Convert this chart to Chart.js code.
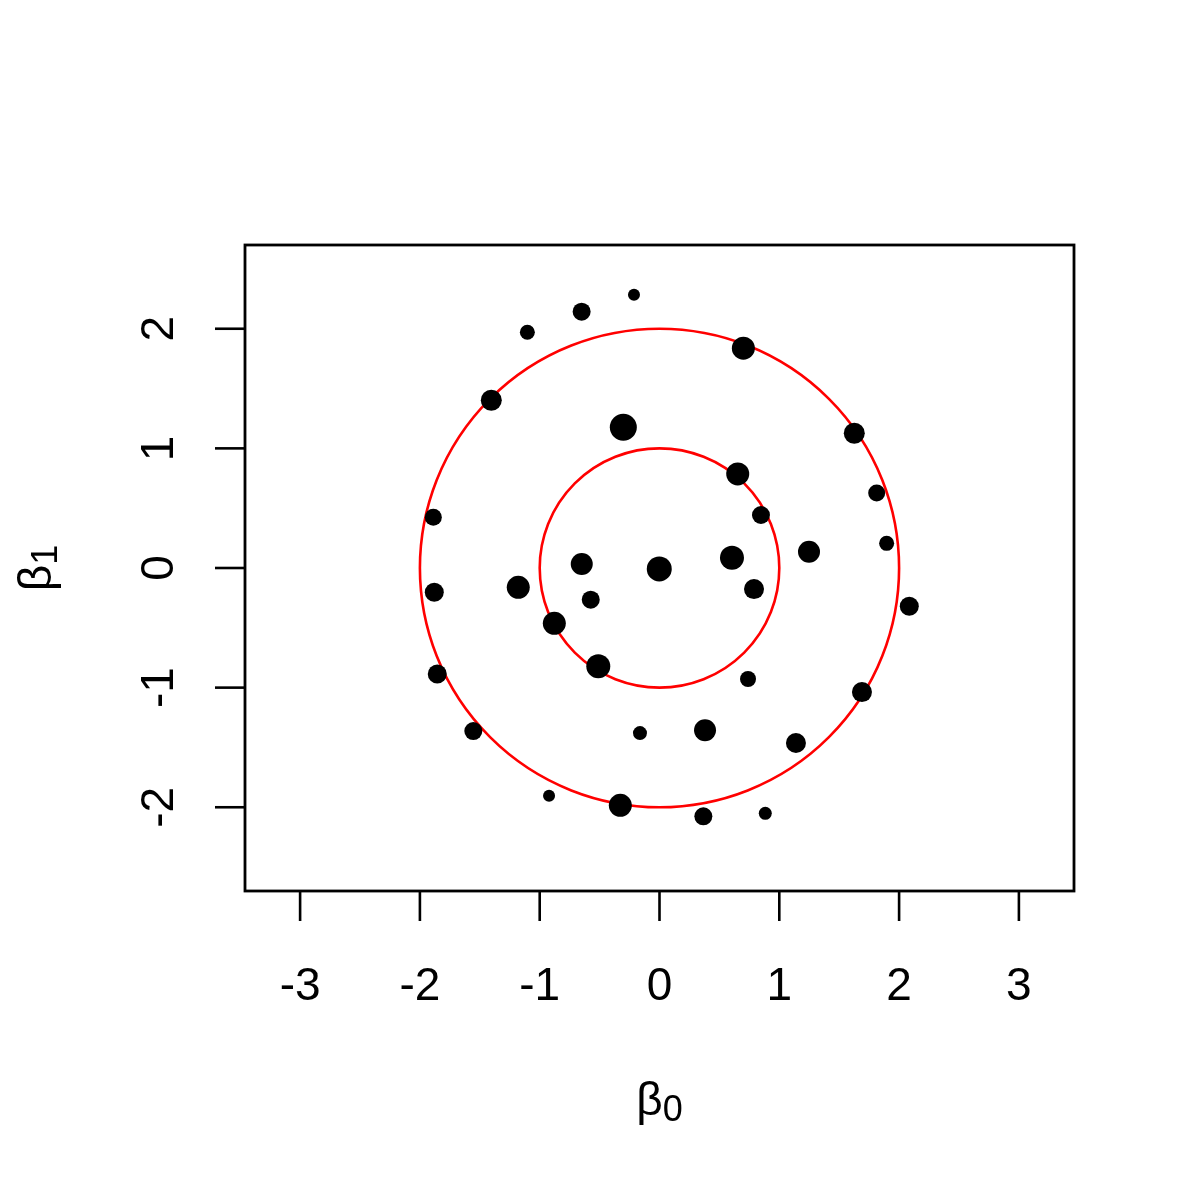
<!DOCTYPE html>
<html>
<head>
<meta charset="utf-8">
<script src="https://cdn.jsdelivr.net/npm/chart.js@4/dist/chart.umd.min.js"></script>
<style>
  html, body { margin: 0; padding: 0; background: #fff; }
  #wrap { width: 1200px; height: 1200px; }
</style>
</head>
<body>
<div id="wrap"><canvas id="myChart" width="1200" height="1200"></canvas></div>
<script>
// sampled coefficients (beta0, beta1) and the dot size for each
var beta0 = [-0.213, -0.650, -1.103, -1.404, -0.302, 0.700, 1.626, -1.888, -1.880, -1.179,
             -0.649, -0.002, -0.574, -0.878, -0.511, 0.653, 0.847, 0.605, 0.789, 1.248,
             1.813, 1.896, 2.085, -1.855, -1.554, -0.163, -0.922, -0.327, 0.739, 1.690,
             0.380, 1.139, 0.883, 0.366];
var beta1 = [2.285, 2.143, 1.971, 1.402, 1.176, 1.837, 1.126, 0.424, -0.203, -0.161,
             0.033, -0.008, -0.265, -0.462, -0.822, 0.786, 0.443, 0.086, -0.176, 0.136,
             0.627, 0.206, -0.320, -0.886, -1.363, -1.380, -1.904, -1.984, -0.928, -1.037,
             -1.357, -1.463, -2.051, -2.076];
var dotSize = [6, 9, 7.5, 10.5, 13.5, 11.5, 10.5, 8.5, 9.5, 11.5,
               11, 12.5, 9, 11.5, 12, 11.5, 9, 12, 10, 11,
               8.5, 7.5, 9.5, 9.5, 9, 7, 6, 11.5, 8, 10,
               11, 10, 6.5, 9];

var ringRadii = [1, 2];
var xTicks = [-3, -2, -1, 0, 1, 2, 3];
var yTicks = [-2, -1, 0, 1, 2];

var points = beta0.map(function (b0, i) { return { x: b0, y: beta1[i] }; });

var FONT = '"Liberation Sans", Arial, sans-serif';

// R-style frame, ticks, labels and the two red rings
var rPlot = {
  id: 'rPlot',
  beforeDatasetsDraw: function (chart) {
    var c = chart.ctx, xs = chart.scales.x, ys = chart.scales.y;
    var cx = xs.getPixelForValue(0), cy = ys.getPixelForValue(0);
    c.save();
    c.strokeStyle = '#ff0000';
    c.lineWidth = 2.6;
    ringRadii.forEach(function (r) {
      var rx = xs.getPixelForValue(r) - cx;
      var ry = cy - ys.getPixelForValue(r);
      c.beginPath();
      c.ellipse(cx, cy, rx, ry, 0, 0, Math.PI * 2);
      c.stroke();
    });
    c.restore();
  },
  afterDraw: function (chart) {
    var c = chart.ctx, a = chart.chartArea, xs = chart.scales.x, ys = chart.scales.y;
    c.save();
    c.strokeStyle = '#000';
    c.lineWidth = 2.8;
    c.strokeRect(a.left, a.top, a.right - a.left, a.bottom - a.top);

    c.lineWidth = 2.6;
    c.fillStyle = '#000';
    c.font = '46px ' + FONT;
    c.textAlign = 'center';
    c.textBaseline = 'middle';
    xTicks.forEach(function (v) {
      var px = xs.getPixelForValue(v);
      c.beginPath();
      c.moveTo(px, a.bottom);
      c.lineTo(px, a.bottom + 30);
      c.stroke();
      c.fillText(String(v), px, 987);
    });
    yTicks.forEach(function (v) {
      var py = ys.getPixelForValue(v);
      c.beginPath();
      c.moveTo(a.left, py);
      c.lineTo(a.left - 30, py);
      c.stroke();
      c.save();
      c.translate(160, py);
      c.rotate(-Math.PI / 2);
      c.fillText(String(v), 0, 0);
      c.restore();
    });

    // axis titles with subscripts
    function betaLabel(sub) {
      c.font = '46px ' + FONT;
      var w1 = c.measureText('\u03b2').width;
      c.font = '36px ' + FONT;
      var w2 = c.measureText(sub).width;
      var x0 = -(w1 + w2) / 2;
      c.textAlign = 'left';
      c.font = '46px ' + FONT;
      c.fillText('\u03b2', x0, 0);
      c.font = '36px ' + FONT;
      c.fillText(sub, x0 + w1, 9);
    }
    c.save();
    c.translate((a.left + a.right) / 2, 1102);
    betaLabel('0');
    c.restore();
    c.save();
    c.translate(38, (a.top + a.bottom) / 2);
    c.rotate(-Math.PI / 2);
    betaLabel('1');
    c.restore();
    c.restore();
  }
};

new Chart(document.getElementById('myChart'), {
  type: 'scatter',
  data: {
    datasets: [{
      data: points,
      pointRadius: dotSize,
      pointHoverRadius: dotSize,
      pointBackgroundColor: '#000',
      pointBorderWidth: 0,
      clip: false
    }]
  },
  options: {
    responsive: false,
    animation: false,
    events: [],
    layout: { padding: { left: 245, right: 126, top: 245, bottom: 309 } },
    plugins: { legend: { display: false }, tooltip: { enabled: false } },
    scales: {
      x: { type: 'linear', min: -3.46, max: 3.46, display: false },
      y: { type: 'linear', min: -2.70, max: 2.70, display: false }
    }
  },
  plugins: [rPlot]
});
</script>
</body>
</html>
